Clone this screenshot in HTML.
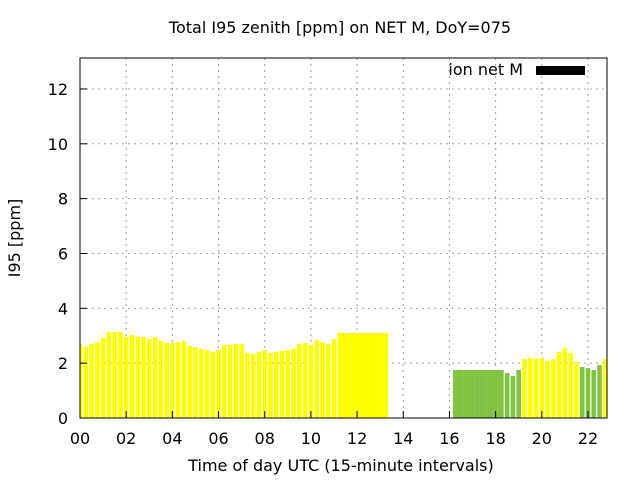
<!DOCTYPE html>
<html><head><meta charset="utf-8"><style>
body{margin:0;background:#fff}
svg{display:block;font-family:"DejaVu Sans","Liberation Sans",sans-serif}
</style></head><body>
<svg id="chart" width="640" height="480" viewBox="0 0 640 480" xmlns="http://www.w3.org/2000/svg">
<rect x="0" y="0" width="640" height="480" fill="#fff"/>
<g id="grid"></g>
<g id="bars"></g>
<rect x="80" y="58" width="527" height="360" fill="none" stroke="#000" stroke-width="1"/>
<g id="ticks"></g>
<text x="340" y="33" font-size="16" text-anchor="middle">Total I95 zenith [ppm] on NET M, DoY=075</text>
<text x="341" y="471" font-size="16" text-anchor="middle">Time of day UTC (15-minute intervals)</text>
<text transform="translate(20,238) rotate(-90)" font-size="16" text-anchor="middle">I95 [ppm]</text>
<g>
<text x="523" y="75" font-size="16" text-anchor="end">ion net M</text>
<rect x="536" y="66" width="49" height="9" fill="#000"/>
</g>
</svg>
<script>
const slots = [0,1,2,3,4,5,6,7,8,9,10,11,12,13,14,15,16,17,18,19,20,21,22,23,24,25,26,27,28,29,30,31,32,33,34,35,36,37,38,39,40,41,42,43,44,45,46,47,48,49,50,51,52,53,65,66,67,68,69,70,71,72,73,74,75,76,77,78,79,80,81,82,83,84,85,86,87,88,89,90,91];
const values = [2.70,2.59,2.70,2.77,2.92,3.14,3.14,3.14,2.96,3.03,2.96,2.96,2.88,2.96,2.81,2.74,2.74,2.77,2.81,2.63,2.59,2.52,2.48,2.41,2.48,2.66,2.66,2.70,2.70,2.37,2.34,2.41,2.48,2.37,2.41,2.45,2.48,2.52,2.70,2.74,2.66,2.85,2.77,2.70,2.88,3.10,3.10,3.10,3.10,3.10,3.10,3.10,3.10,3.10,1.75,1.75,1.75,1.75,1.75,1.75,1.75,1.75,1.75,1.64,1.53,1.75,2.15,2.19,2.15,2.19,2.08,2.15,2.41,2.55,2.37,2.04,1.86,1.82,1.75,1.93,2.15];
const kinds = ["y","y","y","y","y","y","y","y","y","y","y","y","y","y","y","y","y","y","y","y","y","y","y","y","y","y","y","y","y","y","y","y","y","y","y","y","y","y","y","y","y","y","y","y","y","y","y","y","y","y","y","y","y","y","g","g","g","g","g","g","g","g","g","g","g","g","y","y","y","y","y","y","y","y","y","y","g","g","g","g","y"];
const yTicks = [0,2,4,6,8,10,12];
const xTicks = [0,2,4,6,8,10,12,14,16,18,20,22];
const xTickLabels = ["00","02","04","06","08","10","12","14","16","18","20","22"];

const NS="http://www.w3.org/2000/svg";
const L=80,R=607,T=58,B=418, XMAX=(R-L)/23.09, YMAX=(B-T)/27.42;
const xs=h=>L+h/XMAX*(R-L);
const ys=v=>B-v/YMAX*(B-T);
function mk(tag,a,parent){const e=document.createElementNS(NS,tag);for(const k in a)e.setAttribute(k,a[k]);parent.appendChild(e);return e;}
const grid=document.getElementById('grid'),bars=document.getElementById('bars'),ticks=document.getElementById('ticks');
yTicks.forEach(v=>{
  const y=ys(v);
  if(v>0){const g=mk('line',{x1:L,x2:R,y1:y,y2:y,stroke:'#a0a0a0','stroke-dasharray':'2,4'},grid);
  
  }
  const t=mk('line',{x1:L,x2:L+7,y1:y,y2:y,stroke:'#000'},ticks);
  
  
  const lb=mk('text',{x:L-12,y:y+6,'font-size':16,'text-anchor':'end'},ticks);lb.textContent=v;
  
  
});
xTicks.forEach((h,i)=>{
  const x=xs(h);
  if(h>0){const g=mk('line',{x1:x,x2:x,y1:T,y2:B,stroke:'#a0a0a0','stroke-dasharray':'2,4'},grid);
  
  }
  const t=mk('line',{x1:x,x2:x,y1:B,y2:B-7,stroke:'#000'},ticks);
  
  
  const lb=mk('text',{x:x,y:B+26,'font-size':16,'text-anchor':'middle'},ticks);lb.textContent=xTickLabels[i];
  
  
});
const sw=(R-L)/XMAX/4;
const blockStarts=[45,54];
const blockEnds=[53,62];
slots.forEach((s,i)=>{
  const c=xs(s*0.25);
  const x0=Math.max(L,c-2.3), x1=Math.min(R,c+2.3);
  const col=kinds[i]==='g'?'#82c341':'#ffff00';
  const r=mk('rect',{x:x0,y:ys(values[i]),width:Math.max(0,x1-x0),height:B-ys(values[i]),fill:col},bars);
  
  
  const inBlock=blockStarts.some((b,k)=>i>=b&&i<blockEnds[k]);
  if(inBlock&&slots[i+1]===s+1){
    const f=mk('rect',{x:c+2.2,y:ys(values[i]),width:sw-4.2,height:B-ys(values[i]),fill:col},bars);
    
    
  }
});
</script>
</body></html>
